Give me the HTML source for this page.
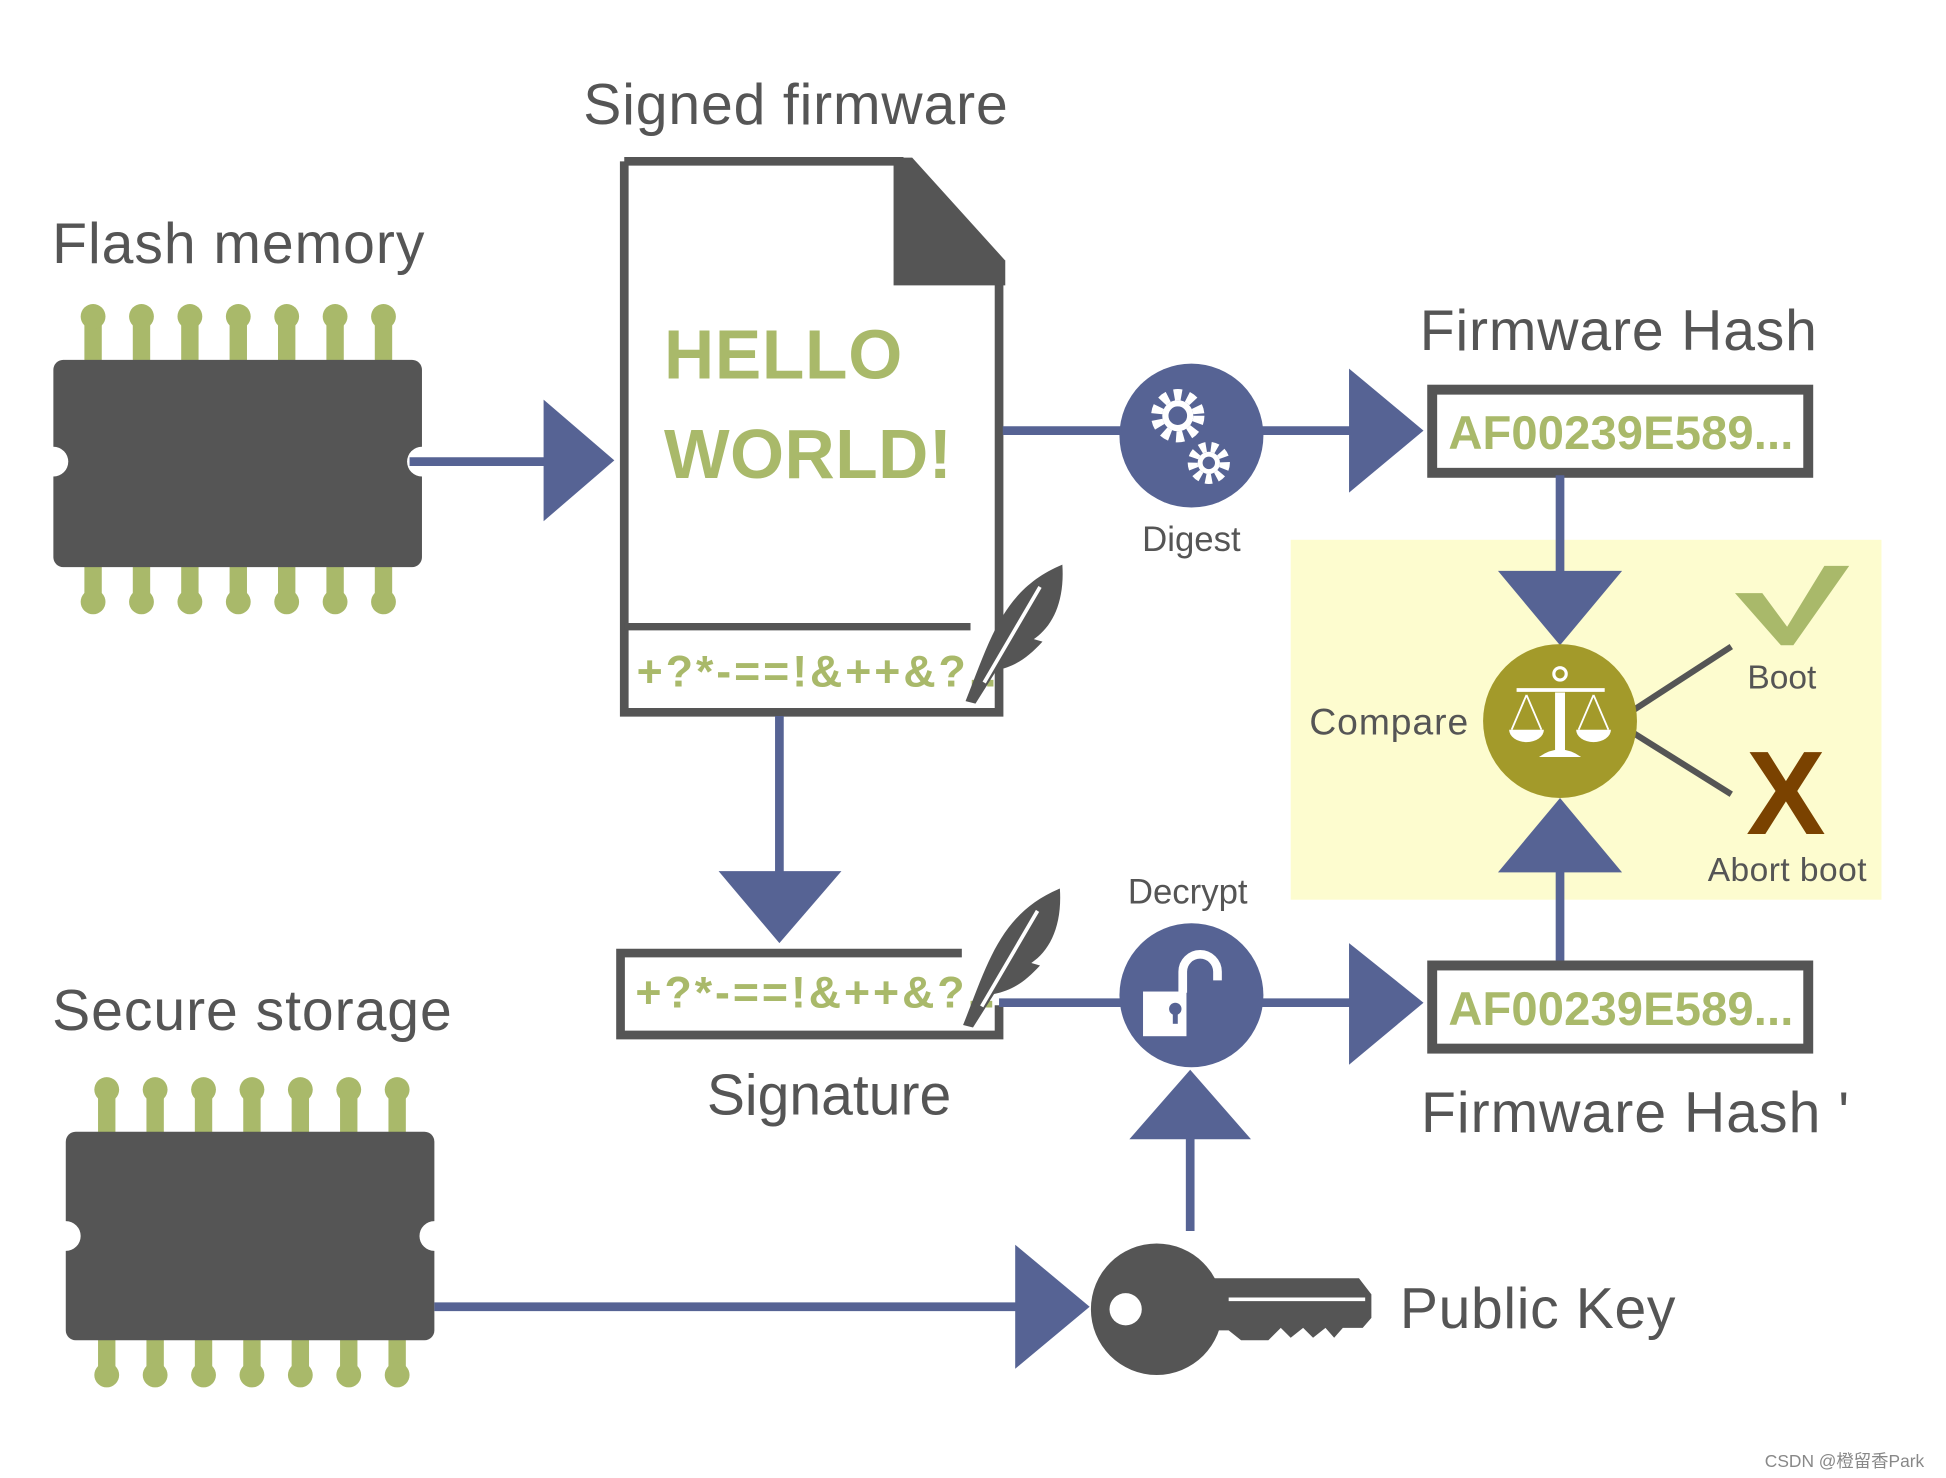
<!DOCTYPE html>
<html><head><meta charset="utf-8"><style>
html,body{margin:0;padding:0;background:#fff;}
svg{display:block;}
text{font-family:"Liberation Sans","Noto Sans CJK SC",sans-serif;}
</style></head><body>
<svg width="1946" height="1478" viewBox="0 0 1568 1191" preserveAspectRatio="none" xmlns="http://www.w3.org/2000/svg">
<defs>
<g id="chip">
  <g fill="#a9b96a">
    <g id="pt"><rect x="-7" y="4" width="14" height="41"/><circle cx="0" cy="8" r="10"/></g>
    <use href="#pt" x="39"/><use href="#pt" x="78"/><use href="#pt" x="117"/><use href="#pt" x="156"/><use href="#pt" x="195"/><use href="#pt" x="234"/>
    <g id="pb"><rect x="-7" y="205" width="14" height="37"/><circle cx="0" cy="238" r="10"/></g>
    <use href="#pb" x="39"/><use href="#pb" x="78"/><use href="#pb" x="117"/><use href="#pb" x="156"/><use href="#pb" x="195"/><use href="#pb" x="234"/>
  </g>
</g>
<g id="quill" fill="#555">
  <path d="M0,110 C20,60 30,20 78,0 C80,30 70,50 55,60 L62,62 C50,75 40,82 25,85 L8,112 Z"/>
  <path d="M15,95 L60,18" stroke="#fff" stroke-width="3"/>
</g>
</defs>
<rect width="1568" height="1191" fill="#fff"/>
<rect x="1040" y="435" width="476" height="290" fill="#fdfccf"/>

<g transform="translate(75,247)"><use href="#chip"/></g>
<rect x="43" y="290" width="297" height="167" rx="8" fill="#555"/>
<circle cx="43" cy="372" r="12" fill="#fff"/><circle cx="340" cy="372" r="12" fill="#fff"/>
<text x="42" y="212" font-size="46" fill="#555" textLength="300">Flash memory</text>

<line x1="330" y1="372" x2="442" y2="372" stroke="#566394" stroke-width="7"/>
<polygon points="438,322 438,420 495,371" fill="#566394"/>

<text x="470" y="100" font-size="46" fill="#555" textLength="342">Signed firmware</text>
<path d="M503,130 L728,130 M503,130 L503,574 L805,574 L805,225" fill="none" stroke="#555" stroke-width="7"/>
<polygon points="720,127 735,127 810,210 810,230 720,230" fill="#555"/>
<line x1="503" y1="505" x2="782" y2="505" stroke="#555" stroke-width="6"/>
<text x="535" y="305" font-size="56" font-weight="bold" fill="#a9b96a" textLength="192">HELLO</text>
<text x="535" y="385" font-size="56" font-weight="bold" fill="#a9b96a" textLength="232">WORLD!</text>
<text x="513" y="553" font-size="36" font-weight="bold" fill="#a9b96a" textLength="290">+?*-==!&amp;++&amp;?..</text>
<g transform="translate(778,455)"><use href="#quill"/></g>

<line x1="808" y1="347" x2="1090" y2="347" stroke="#566394" stroke-width="7"/>
<circle cx="960" cy="351" r="58" fill="#566394"/>
<g fill="none" stroke="#fff">
  <circle cx="949" cy="335" r="17" stroke-width="9" stroke-dasharray="6 5"/>
  <circle cx="949" cy="335" r="10" stroke-width="5"/>
  <circle cx="974" cy="373" r="13" stroke-width="8" stroke-dasharray="5 4"/>
  <circle cx="974" cy="373" r="7" stroke-width="4"/>
</g>
<text x="960" y="444" font-size="28" fill="#555" text-anchor="middle">Digest</text>
<polygon points="1087,297 1087,397 1147,347" fill="#566394"/>

<text x="1144" y="282" font-size="46" fill="#555" textLength="320">Firmware Hash</text>
<rect x="1154" y="314" width="303" height="67" fill="#fff" stroke="#555" stroke-width="8"/>
<text x="1167" y="362" font-size="38" font-weight="bold" fill="#a9b96a" textLength="278">AF00239E589...</text>

<line x1="1257" y1="383" x2="1257" y2="465" stroke="#566394" stroke-width="7"/>
<polygon points="1207,460 1307,460 1257,520" fill="#566394"/>
<line x1="1257" y1="700" x2="1257" y2="777" stroke="#566394" stroke-width="7"/>
<polygon points="1207,703 1307,703 1257,643" fill="#566394"/>
<line x1="1315" y1="573" x2="1395" y2="521" stroke="#555" stroke-width="5"/>
<line x1="1315" y1="590" x2="1395" y2="640" stroke="#555" stroke-width="5"/>
<circle cx="1257" cy="581" r="62" fill="#a39a2a"/>
<g fill="#fff" stroke="#fff">
  <circle cx="1257" cy="543" r="5" fill="none" stroke-width="2.5"/>
  <line x1="1222" y1="556" x2="1293" y2="556" stroke-width="3"/>
  <rect x="1253" y="558" width="8" height="52" stroke="none"/>
  <path d="M1240,610 Q1257,598 1274,610 Z" stroke="none"/>
  <path d="M1230,560 L1218,588 M1230,560 L1242,588 M1284,560 L1272,588 M1284,560 L1296,588" stroke-width="1.5" fill="none"/>
  <path d="M1216,588 A14,10 0 0 0 1244,588 Z M1270,588 A14,10 0 0 0 1298,588 Z" stroke="none"/>
</g>
<text x="1055" y="592" font-size="30" fill="#555" textLength="128">Compare</text>
<polygon points="1398,478 1420,478 1440,505 1470,456 1490,456 1445,520 1435,520" fill="#a9b96a"/>
<text x="1408" y="555" font-size="27" fill="#555">Boot</text>
<text x="1439" y="672" font-size="96" font-weight="bold" fill="#7a4200" text-anchor="middle">X</text>
<text x="1376" y="710" font-size="27" fill="#555" textLength="128">Abort boot</text>

<line x1="628" y1="577" x2="628" y2="705" stroke="#566394" stroke-width="7"/>
<polygon points="579,702 678,702 628,760" fill="#566394"/>
<path d="M775,768 L500,768 L500,834 L805,834 L805,810" fill="none" stroke="#555" stroke-width="7"/>
<text x="512" y="812" font-size="36" font-weight="bold" fill="#a9b96a" textLength="290">+?*-==!&amp;++&amp;?..</text>
<g transform="translate(776,716)"><use href="#quill"/></g>
<text x="668" y="898" font-size="46" fill="#555" text-anchor="middle">Signature</text>

<line x1="805" y1="808" x2="1090" y2="808" stroke="#566394" stroke-width="7"/>
<circle cx="960" cy="802" r="58" fill="#566394"/>
<path d="M953,800 L953,783 A14,14 0 0 1 981,783 L981,790" fill="none" stroke="#fff" stroke-width="7"/>
<rect x="921" y="799" width="35" height="36" fill="#fff"/>
<circle cx="947" cy="813" r="5" fill="#566394"/><rect x="945" y="813" width="4" height="12" fill="#566394"/>
<text x="957" y="728" font-size="28" fill="#555" text-anchor="middle">Decrypt</text>
<polygon points="1087,760 1087,858 1147,808" fill="#566394"/>
<polygon points="910,918 1008,918 959,862" fill="#566394"/>
<line x1="959" y1="915" x2="959" y2="992" stroke="#566394" stroke-width="7"/>

<rect x="1154" y="778" width="303" height="67" fill="#fff" stroke="#555" stroke-width="8"/>
<text x="1167" y="826" font-size="38" font-weight="bold" fill="#a9b96a" textLength="278">AF00239E589...</text>
<text x="1145" y="912" font-size="46" fill="#555" textLength="345">Firmware Hash '</text>

<text x="42" y="830" font-size="46" fill="#555" textLength="322">Secure storage</text>
<g transform="translate(86,870)"><use href="#chip"/></g>
<rect x="53" y="912" width="297" height="168" rx="8" fill="#555"/>
<circle cx="53" cy="996" r="12" fill="#fff"/><circle cx="350" cy="996" r="12" fill="#fff"/>
<line x1="350" y1="1053" x2="822" y2="1053" stroke="#566394" stroke-width="7"/>
<polygon points="818,1003 818,1103 878,1053" fill="#566394"/>

<circle cx="932" cy="1055" r="53" fill="#555"/>
<circle cx="907" cy="1055" r="13" fill="#fff"/>
<polygon points="975,1030 1095,1030 1105,1043 1105,1062 1098,1070 1082,1070 1075,1078 1068,1070 1058,1078 1050,1070 1040,1078 1032,1070 1022,1080 1000,1080 990,1072 975,1072" fill="#555"/>
<line x1="990" y1="1047" x2="1100" y2="1047" stroke="#fff" stroke-width="3"/>
<text x="1128" y="1070" font-size="46" fill="#555" textLength="222">Public Key</text>

<text x="1422" y="1182" font-size="14" fill="#888">CSDN @橙留香Park</text>
</svg>
</body></html>
